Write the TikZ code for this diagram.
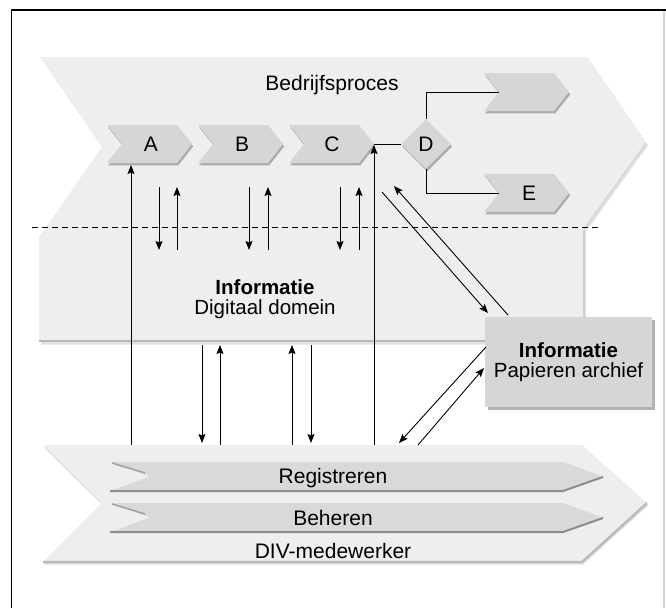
\documentclass[tikz,border=0pt]{standalone}
\usepackage{fontspec}
\setmainfont{Liberation Sans}
\usetikzlibrary{arrows.meta,shapes.geometric}

\definecolor{bandgray}{HTML}{EEEEEE}
\definecolor{stepgray}{HTML}{D6D6D6}
\definecolor{bargray}{HTML}{D9D9D9}
\definecolor{edgegray}{HTML}{B9B9B9}
\definecolor{darkedge}{HTML}{8C8C8C}
\definecolor{framegray}{HTML}{D6D6D6}

% chevron: #1 style, #2 left, #3 right, #4 top, #5 bottom, #6 notch depth
\newcommand\chevron[6]{%
  \fill[#1] (#2,#4) -- ({#3-#6},#4) -- (#3,{(#4+#5)/2}) -- ({#3-#6},#5)
    -- (#2,#5) -- ({#2+#6},{(#4+#5)/2}) -- cycle;}
% process step with soft shadow
\newcommand\stepchevron[4]{%
  \chevron{black,opacity=.28,xshift=1.2pt,yshift=-2.4pt}{#1}{#2}{#3}{#4}{15}%
  \chevron{stepgray}{#1}{#2}{#3}{#4}{15}}

\begin{document}
\begin{tikzpicture}[x=1pt,y=-1pt,
  font=\fontsize{21}{18}\selectfont,
  lbl/.style={inner sep=0pt,anchor=center},
  flow/.style={line width=0.9pt,-{Stealth[length=9pt,width=7pt,inset=1.5pt]}},
  link/.style={line width=0.9pt},
  twoline/.style={align=center,font=\fontsize{20.5}{20}\selectfont},
  archiefbox/.style={rectangle,fill=stepgray,minimum width=167pt,minimum height=90pt,
    inner sep=0pt,twoline}]
\useasboundingbox (0,0) rectangle (666,608);
\fill[white] (0,0) rectangle (666,608);

% frame
\draw[framegray,line width=1.2pt] (664,10) -- (664,608);
\draw[black,line width=1.6pt] (11.5,608) -- (11.5,10) -- (666,10);

% business process chevron merged with the digital domain band
\fill[black,opacity=.12,xshift=2pt,yshift=-2.5pt]
  (40,57) -- (587,57) -- (646,143) -- (584,229) -- (584,342) -- (39,342)
  -- (39,237) -- (102,147) -- cycle;
\fill[bandgray]
  (40,57) -- (587,57) -- (646,143) -- (584,229) -- (584,342) -- (39,342)
  -- (39,237) -- (102,147) -- cycle;
\draw[edgegray,line width=2.4pt] (39,341) -- (585,341);
\draw[edgegray!70,line width=1.6pt] (584,230) -- (584,341);
\draw[edgegray!60,line width=1.2pt] (646,143) -- (584,229);

% DIV employee chevron
\fill[black,opacity=.14,xshift=1pt,yshift=-2.5pt]
  (43,445) -- (582,445) -- (647,503) -- (582,562) -- (43,562) -- (102,503) -- cycle;
\fill[bandgray]
  (43,445) -- (582,445) -- (647,503) -- (582,562) -- (43,562) -- (102,503) -- cycle;
\draw[edgegray,line width=2.2pt] (43,562) -- (582,562) -- (647,503);

% Registreren / Beheren bars
\foreach \t in {462,503}{
  \chevron{bargray}{110}{603}{\t}{\t+29}{40}
  \draw[darkedge,line width=2pt] (110,\t+29) -- (563,\t+29) -- (603,\t+15);
  \draw[darkedge!80,line width=1.6pt] (112,\t+1) -- (145,\t+11);
}

% process steps
\stepchevron{107}{192}{125}{163}
\stepchevron{198}{283}{125}{163}
\stepchevron{289}{374}{125}{163}
\stepchevron{484}{569}{73}{111}
\stepchevron{484}{569}{174}{212}

% decision
\node[diamond,aspect=1,fill=black,opacity=.28,minimum width=50pt,minimum height=50pt,
  inner sep=0pt] at (427.2,146.4) {};
\node[diamond,aspect=1,fill=stepgray,minimum width=50pt,minimum height=50pt,
  inner sep=0pt] (D) at (426,144) {D};

% paper archive box
\fill[black,opacity=.3] (488,320) rectangle (655,410);
\node[archiefbox] (archief) at (568.5,362) {\textbf{Informatie}\\Papieren archief};

% labels
\node[lbl] (A) at (151,144) {A};
\node[lbl] (B) at (242,144) {B};
\node[lbl] (C) at (332,144) {C};
\node[lbl] (E) at (529,193) {E};
\node[lbl] (bedrijf) at (332,85) {Bedrijfsproces};
\node[lbl,twoline] (digitaal) at (265,299)
  {\textbf{Informatie}\\Digitaal domein};
\node[lbl] (registreren) at (333,478) {Registreren};
\node[lbl] (beheren) at (333,518) {Beheren};
\node[lbl] (div) at (333,551) {DIV-medewerker};

% decision branches
\coordinate (C-tip) at (374,144);
\coordinate (up-notch) at (499,92);
\coordinate (E-notch) at (499,193);
\draw[link] (C-tip) -- (D.west);
\draw[link] (D.north) |- (up-notch);
\draw[link] (D.south) |- (E-notch);

% boundary of the business process
\coordinate (dash-l) at (32,227);
\coordinate (dash-r) at (598,227);
\draw[line width=0.9pt,dash pattern=on 6pt off 4pt] (dash-l) -- (dash-r);

% long flows from the DIV employee to the process
\coordinate (div-A) at (131,445);
\coordinate (A-foot) at (131,165);
\coordinate (div-C) at (374,445);
\coordinate (C-foot) at (374,145);
\draw[flow] (div-A) -- (A-foot);
\draw[flow] (div-C) -- (C-foot);

% exchanges between steps and the digital domain
\foreach \n/\xd/\xu in {A/159/177, B/249/268, C/340/359}{
  \coordinate (\n-req-top) at (\xd,187);
  \coordinate (\n-req-bot) at (\xd,250);
  \coordinate (\n-ret-bot) at (\xu,250);
  \coordinate (\n-ret-top) at (\xu,187);
  \draw[flow] (\n-req-top) -- (\n-req-bot);
  \draw[flow] (\n-ret-bot) -- (\n-ret-top);
}

% exchanges between the digital domain and the DIV employee
\foreach \n/\xd/\xu in {p/202/220, q/311/292}{
  \coordinate (\n-dn-top) at (\xd,345);
  \coordinate (\n-dn-bot) at (\xd,443);
  \coordinate (\n-up-bot) at (\xu,445);
  \coordinate (\n-up-top) at (\xu,345);
  \draw[flow] (\n-dn-top) -- (\n-dn-bot);
  \draw[flow] (\n-up-bot) -- (\n-up-top);
}

% exchanges with the paper archive
\coordinate (proc-out) at (382,192);
\coordinate (arch-in) at (488,313);
\coordinate (arch-out) at (508,315);
\coordinate (proc-in) at (394,186);
\coordinate (arch-low-out) at (486,347);
\coordinate (div-in) at (399,443);
\coordinate (div-out) at (418,445);
\coordinate (arch-low-in) at (484,368);
\draw[flow] (proc-out) -- (arch-in);
\draw[flow] (arch-out) -- (proc-in);
\draw[flow] (arch-low-out) -- (div-in);
\draw[flow] (div-out) -- (arch-low-in);
\end{tikzpicture}
\end{document}
